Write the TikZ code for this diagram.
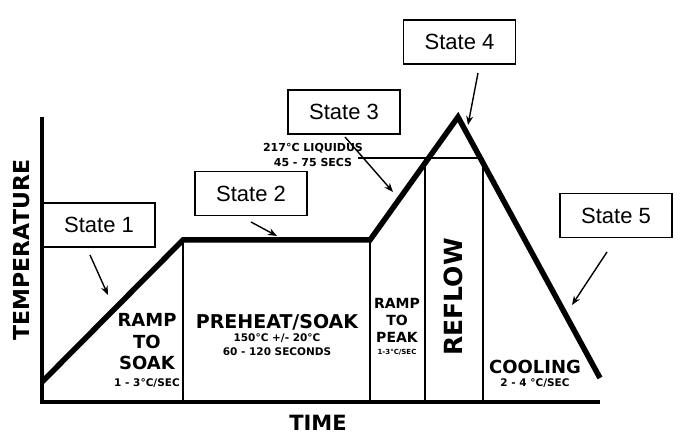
\documentclass[tikz,border=0pt]{standalone}
\usepackage{fontspec}
\setmainfont{Liberation Sans}
\newfontfamily\heavyfont{DejaVu Sans}
\usetikzlibrary{arrows.meta}
\tikzset{
  statebox/.style={draw,line width=1.6pt,minimum width=112pt,minimum height=44pt,inner sep=0pt,font=\fontsize{22}{24}\selectfont},
  pointer/.style={line width=1.4pt,-{Stealth[length=9pt,width=7pt]}},
  profile/.style={line width=5.5pt,line join=miter},
  axis/.style={line width=4pt},
  zone/.style={line width=1.8pt},
  heavy/.style={font=\heavyfont\bfseries\fontsize{#1}{#1}\selectfont,inner sep=0pt,align=center},
}
\begin{document}
\begin{tikzpicture}[x=1pt,y=-1pt]
\useasboundingbox (0,0) rectangle (689,435);
% profile points
\coordinate (o) at (42,402);
\coordinate (ytop) at (42,117);
\coordinate (xend) at (600,402);
\coordinate (p0) at (42,382);
\coordinate (p1) at (183,240);
\coordinate (p2) at (370,240);
\coordinate (p3) at (458,117);
\coordinate (p4) at (600,378);
\coordinate (q1) at (183,402);
\coordinate (q2) at (370,402);
\coordinate (l0) at (358,158);
\coordinate (l1) at (425,158);
\coordinate (l2) at (483,158);
\coordinate (q3) at (425,402);
\coordinate (q4) at (483,402);
% zones
\draw[zone] (p1)--(q1);
\draw[zone] (p2)--(q2);
\draw[zone] (l1)--(q3);
\draw[zone] (l2)--(q4);
\draw[zone] (l0)--(l2);
% axes and profile
\draw[axis] (ytop)--(o)--(xend);
\draw[profile] (p0)--(p1)--(p2)--(p3)--(p4);
% states
\node[statebox] (s1) at (99,225) {State 1};
\node[statebox] (s2) at (251,193.5) {State 2};
\node[statebox] (s3) at (344,112) {State 3};
\node[statebox] (s4) at (459.5,42) {State 4};
\node[statebox] (s5) at (616,215.5) {State 5};
\coordinate (a1) at (90,255);
\coordinate (t1) at (108,295);
\coordinate (a2) at (251,222);
\coordinate (t2) at (277,236);
\coordinate (a3) at (345,137);
\coordinate (t3) at (393,192);
\coordinate (a4) at (478,73);
\coordinate (t4) at (468,125);
\coordinate (a5) at (607,252);
\coordinate (t5) at (572,305);
\draw[pointer] (a1)--(t1);
\draw[pointer] (a2)--(t2);
\draw[pointer] (a3)--(t3);
\draw[pointer] (a4)--(t4);
\draw[pointer] (a5)--(t5);
% labels
\node[heavy=22,rotate=90] (temp) at (22,250) {TEMPERATURE};
\node[heavy=21] (time) at (318,423) {TIME};
\node[heavy=18,font=\heavyfont\bfseries\fontsize{18}{21.5}\selectfont] (rs) at (147,342) {RAMP\\TO\\SOAK};
\node[heavy=10.5] (rsr) at (147,383) {1 - 3°C/SEC};
\node[heavy=19] (ph) at (277,322) {PREHEAT/SOAK};
\node[heavy=10.5,font=\heavyfont\bfseries\fontsize{10.5}{14}\selectfont] (phr) at (277,345) {150°C +/- 20°C\\60 - 120 SECONDS};
\node[heavy=14,font=\heavyfont\bfseries\fontsize{14}{17}\selectfont] (rp) at (397,320) {RAMP\\TO\\PEAK};
\node[heavy=7] (rpr) at (397,352) {1-3°C/SEC};
\node[heavy=25,rotate=90] (rf) at (453,297) {REFLOW};
\node[heavy=18] (cl) at (535,367) {COOLING};
\node[heavy=10.5] (clr) at (535,383) {2 - 4 °C/SEC};
\node[heavy=11,font=\heavyfont\bfseries\fontsize{11}{15}\selectfont] (lq) at (313,154.5) {217°C LIQUIDUS\\45 - 75 SECS};
\end{tikzpicture}
\end{document}
